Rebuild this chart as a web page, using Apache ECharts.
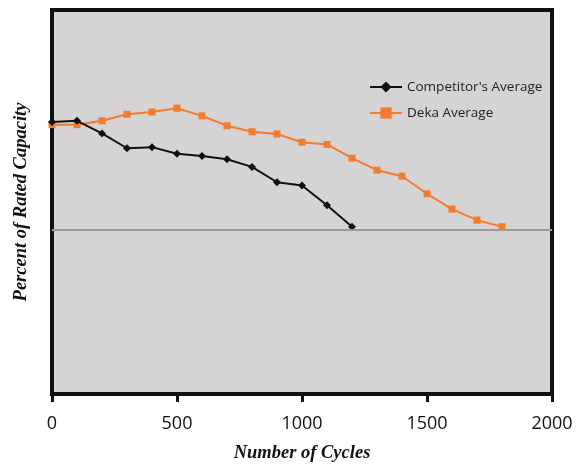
<!DOCTYPE html>
<html>
<head>
<meta charset="utf-8">
<script src="https://cdn.jsdelivr.net/npm/echarts@6/dist/echarts.min.js"></script>
<style>html,body{margin:0;padding:0;background:#fff}#c{width:587px;height:464px}</style>
</head>
<body>
<div id="c"></div>
<script>
const cycles = [0,100,200,300,400,500,600,700,800,900,1000,1100,1200,1300,1400,1500,1600,1700,1800];
const competitor = [99.6,99.8,97.5,94.8,95.0,93.8,93.4,92.8,91.4,88.6,88.0,84.4,80.5];
const deka = [99.1,99.1,99.8,101.0,101.4,102.1,100.7,98.9,97.8,97.4,95.9,95.5,93.0,90.8,89.7,86.5,83.7,81.7,80.5];
const xTicks = [0,500,1000,1500,2000];
const refLevel = 80;

const chart = echarts.init(document.getElementById('c'));
chart.setOption({
  animation: false,
  backgroundColor: '#fff',
  grid: {left: 52, right: 35, top: 10, bottom: 70, outerBoundsMode: 'none', containLabel: false,
    show: true, backgroundColor: '#d5d3d4', borderColor: '#111', borderWidth: 4},
  legend: {
    orient: 'vertical', left: 364, top: 75, itemWidth: 32, itemHeight: 14, itemGap: 12,
    textStyle: {fontFamily: 'Open Sans', fontSize: 13.5, color: '#222'},
    data: ["Competitor's Average", 'Deka Average']
  },
  xAxis: {
    type: 'value', min: 0, max: 2000, interval: 500,
    axisLine: {show: false},
    axisTick: {show: true, length: 8, lineStyle: {color: '#111', width: 3}},
    splitLine: {show: false},
    axisLabel: {margin: 21, fontFamily: 'Open Sans', fontSize: 18, color: '#111',
      formatter: v => xTicks.includes(v) ? String(v) : ''},
    name: 'Number of Cycles', nameLocation: 'middle', nameGap: 50,
    nameTextStyle: {fontFamily: 'Liberation Serif', fontStyle: 'italic', fontWeight: 'bold', fontSize: 18.5, color: '#111'}
  },
  yAxis: {
    type: 'value', min: 50, max: 120,
    axisLine: {show: false}, axisTick: {show: false}, axisLabel: {show: false}, splitLine: {show: false},
    name: 'Percent of Rated Capacity', nameLocation: 'middle', nameGap: 21,
    nameTextStyle: {fontFamily: 'Liberation Serif', fontStyle: 'italic', fontWeight: 'bold', fontSize: 18.5, color: '#111'}
  },
  series: [
    {
      name: "Competitor's Average", type: 'line',
      data: competitor.map((v, i) => [cycles[i], v]),
      symbol: 'diamond', symbolSize: 8,
      lineStyle: {color: '#111', width: 2}, itemStyle: {color: '#111'},
      z: 3,
      markLine: {silent: true, symbol: 'none', label: {show: false},
        lineStyle: {color: '#9a9a9a', width: 2, type: 'solid'},
        data: [{yAxis: refLevel}]}
    },
    {
      name: 'Deka Average', type: 'line',
      data: deka.map((v, i) => [cycles[i], v]),
      symbol: 'rect', symbolSize: 7,
      lineStyle: {color: '#f47a2c', width: 2}, itemStyle: {color: '#f47a2c'},
      z: 2
    }
  ]
});
</script>
</body>
</html>
